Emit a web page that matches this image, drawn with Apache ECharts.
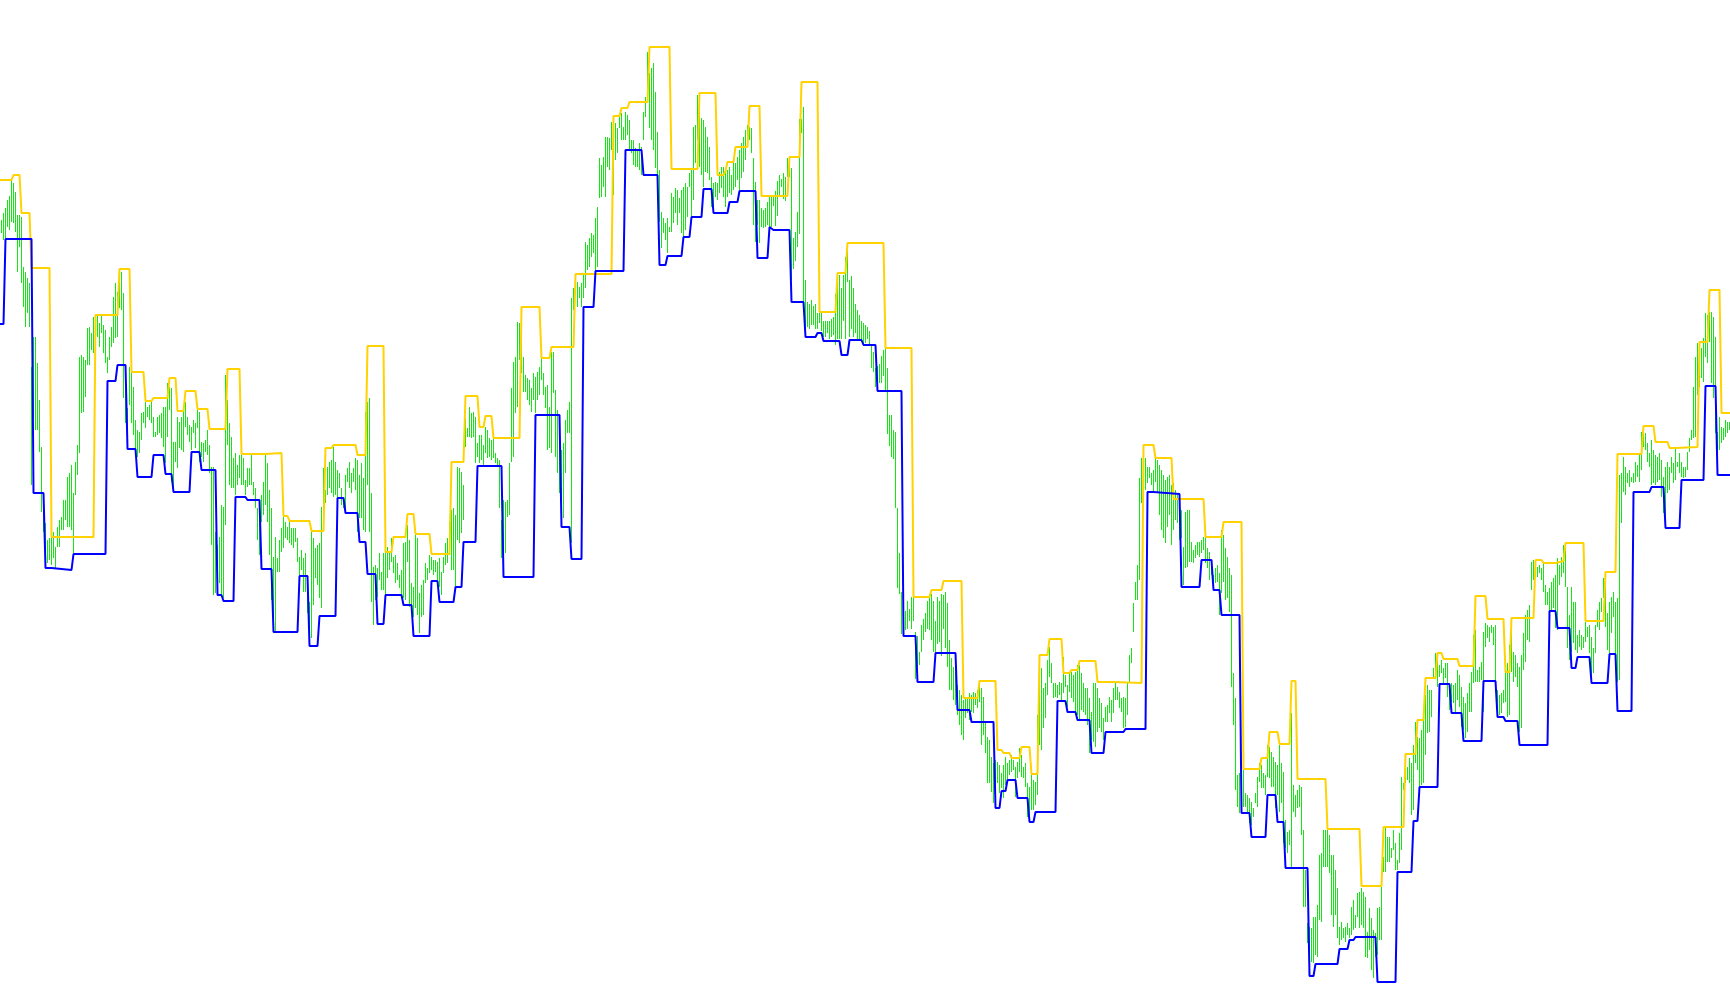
<!DOCTYPE html>
<html>
<head>
<meta charset="utf-8">
<script src="https://cdn.jsdelivr.net/npm/echarts/dist/echarts.min.js"></script>
<style>
html,body{margin:0;padding:0;background:#fff;}
#chart{width:1730px;height:1005px;}
</style>
</head>
<body>
<div id="chart"></div>
<script>
// Bar highs (one per bar, price units)
const highs = [
785,792,797,805,809,825,822,813,790,790,
788,738,733,727,722,638,668,668,642,605,
558,510,482,465,467,472,473,458,478,485,
488,505,505,528,532,540,512,543,560,648,
650,648,645,677,678,672,688,688,690,682,
690,680,675,648,668,678,708,722,713,735,
733,712,628,597,638,633,618,585,575,573,
592,593,603,598,600,605,588,573,588,590,
592,598,598,622,618,617,563,563,588,583,
588,598,603,588,580,578,
585,582,595,593,
563,562,565,575,560,538,538,473,460,468,
500,498,630,605,582,568,547,552,540,550,
550,547,525,537,537,550,523,517,497,503,
510,523,550,542,515,497,448,468,447,465,
477,488,483,478,485,477,477,477,467,448,
455,447,452,430,403,475,467,457,460,462,
498,537,515,538,543,545,558,543,535,532,
517,507,530,537,543,532,537,547,545,530,
542,527,593,603,607,512,438,440,437,452,
433,452,453,
458,452,467,448,450,442,430,
435,462,463,480,465,422,418,470,467,412,
420,425,442,437,450,448,445,445,443,447,
433,448,462,467,483,495,497,490,538,537,
533,520,587,577,598,592,593,588,562,570,
570,560,578,575,567,565,567,552,547,545,
485,505,503,505,542,617,643,648,683,682,
677,648,630,627,625,617,632,628,633,638,
648,632,618,620,598,653,653,615,595,565,
555,562,585,595,603,707,717,730,723,
718,
722,732,763,760,767,772,770,787,798,847,
840,848,868,868,867,883,875,882,877,888,
892,878,893,890,885,865,865,857,855,862,
858,893,908,953,932,937,942,913,873,835,
793,787,782,787,778,812,808,817,815,807,
815,818,822,818,832,835,878,880,910,895,
887,885,878,868,858,828,822,823,822,833,
838,838,833,835,838,830,843,842,848,855,
862,868,875,880,878,877,847,823,805,805,
797,795,797,803,808,808,
810,814,824,830,
826,832,828,847,837,837,767,773,793,886,
886,898,725,703,701,705,699,701,692,692,
692,684,684,684,684,686,688,711,732,730,
717,730,748,760,725,729,717,701,695,690,
684,682,680,678,674,660,653,637,639,641,
649,655,657,637,590,590,575,573,497,452,
413,402,394,404,396,408,408,373,369,353,
380,386,392,404,411,411,404,384,408,404,
411,410,413,402,365,347,338,341,320,315,
310,305,
307,308,312,310,313,312,315,320,
317,308,283,268,265,248,242,245,243,240,
232,240,248,242,245,250,245,238,243,257,
250,238,242,222,218,230,225,223,290,338,
337,317,322,345,358,342,322,322,320,323,
322,348,330,320,333,333,330,333,340,340,
332,322,317,317,307,293,322,322,317,307,
302,287,298,300,308,305,317,322,318,313,
307,308,307,322,350,357,402,423,440,527,
547,545,547,538,538,532,535,548,545,
540,
535,530,525,528,530,520,522,515,510,512,
495,458,493,495,495,463,455,460,463,463,
465,468,468,457,453,445,430,437,440,432,
475,470,457,448,437,430,332,307,230,232,
235,235,212,210,207,203,197,212,228,242,
240,232,230,260,258,253,248,243,240,260,
242,233,185,173,175,292,220,210,215,220,
218,175,135,82,78,77,88,88,100,150,
152,175,175,175,170,150,150,135,117,78,
83,77,78,82,77,
98,105,90,112,113,
117,113,108,73,97,87,75,72,97,98,
118,148,177,168,168,157,175,162,145,172,
228,222,242,238,247,242,260,283,268,267,
275,285,310,320,315,315,337,352,345,340,
345,337,342,342,317,322,320,322,335,330,
318,308,302,312,322,333,370,375,335,338,
343,373,382,380,378,380,378,380,315,310,
312,315,345,342,360,372,353,350,342,338,
350,372,390,395,400,443,445,438,438,440,
437,443,
420,413,417,423,427,430,447,440,
448,460,457,418,390,418,403,403,370,375,
370,368,383,378,380,368,357,380,395,403,
407,427,418,392,403,408,413,403,407,530,
532,548,538,532,535,528,532,543,540,550,
573,572,572,562,552,565,555,550,548,552,
545,528,538,543,538,548,542,557,543,552,
543,538,538,553,567,575,618,648,662,658,
657,667,692,690,693,693,688,668,573,588,
578,577,585,583,583
];

// Bar lows
const lows = [
772,765,767,778,775,783,782,773,733,758,
722,698,678,692,678,520,587,575,575,553,
493,473,442,442,445,440,447,437,458,458,
475,475,485,478,478,475,452,510,530,552,
592,593,608,640,640,655,652,663,668,658,
672,652,642,632,645,658,662,667,668,697,
695,607,582,573,600,582,570,555,548,552,
565,582,577,588,585,582,568,568,570,572,
567,558,542,568,595,523,515,543,537,557,
555,553,578,570,563,555,
572,557,577,543,
548,543,553,550,532,460,410,412,417,422,
408,407,480,560,520,517,517,510,520,527,
520,520,510,518,520,520,510,497,465,450,
483,490,500,483,450,405,373,373,433,433,
453,457,467,465,462,460,457,463,443,430,
435,413,413,392,367,367,400,427,420,407,
397,490,502,510,517,512,508,510,507,517,
500,497,493,523,517,512,523,515,473,487,
487,475,473,520,473,403,380,405,408,425,
415,415,410,
427,435,443,432,422,425,417,
407,407,405,443,398,392,388,397,390,372,
388,390,422,425,432,435,430,433,425,418,
410,432,440,442,450,435,435,418,465,462,
472,485,558,568,568,567,568,542,548,542,
545,540,552,547,548,545,547,542,538,497,
447,445,452,488,490,543,548,592,598,645,
632,613,613,605,600,593,605,592,605,610,
625,610,597,555,557,552,612,548,532,512,
485,487,532,572,572,462,695,718,698,
707,
698,707,717,735,738,748,752,732,738,807,
808,818,808,838,835,855,810,845,852,877,
865,865,865,870,855,852,840,838,838,835,
830,865,888,907,877,865,855,837,825,783,
757,772,765,752,773,773,782,792,780,792,
772,768,775,788,818,785,805,842,865,838,
830,818,833,832,825,798,797,808,805,812,
817,808,798,808,812,810,815,818,825,815,
827,833,845,863,865,852,780,763,780,762,
778,777,778,780,778,778,
799,779,789,808,
818,806,804,828,828,725,736,744,758,771,
872,701,676,678,676,680,680,676,676,682,
674,668,668,672,666,668,670,660,666,666,
666,684,666,723,668,676,668,672,664,666,
664,660,662,666,659,637,633,618,625,622,
622,629,614,571,559,548,546,497,417,411,
371,373,375,376,384,376,384,326,326,340,
353,365,373,376,375,365,353,345,361,363,
349,376,357,338,315,315,305,300,290,280,
270,265,
287,292,285,293,292,300,297,303,
260,270,252,222,222,213,202,217,222,212,
217,207,220,225,230,233,235,208,227,233,
228,227,218,188,188,195,195,200,210,260,
255,277,287,310,328,322,307,308,307,310,
305,312,318,298,313,307,303,290,290,285,
295,293,290,280,252,265,263,258,273,277,
273,265,283,283,292,283,292,305,305,297,
293,277,278,290,323,342,373,405,405,425,
502,518,515,522,527,520,512,523,513,
490,
475,467,462,478,490,460,475,485,482,465,
467,420,437,438,443,443,442,447,450,448,
452,455,442,437,425,430,415,422,423,390,
412,423,405,407,393,318,280,215,198,192,
210,198,198,193,182,180,188,202,198,223,
217,217,210,228,227,218,218,197,210,193,
202,162,157,152,160,137,193,188,197,198,
170,98,98,62,48,43,42,50,48,85,
83,138,138,138,132,90,78,90,67,60,
65,67,63,70,67,
70,75,77,88,77,
80,77,48,47,55,35,27,48,50,65,
65,133,133,143,143,147,155,135,135,142,
155,215,222,225,222,190,195,242,235,218,
220,222,250,272,273,288,327,328,318,328,
332,322,327,308,295,303,302,292,305,298,
278,275,267,273,293,293,322,323,323,323,
325,293,358,367,363,372,360,323,293,290,
292,302,303,288,290,333,323,328,318,273,
277,335,343,365,363,415,425,428,428,432,
425,413,
400,400,392,395,397,377,375,420,
428,432,418,357,345,353,362,355,352,358,
355,357,363,368,352,325,332,352,378,375,
393,407,378,355,352,372,388,352,323,325,
482,513,510,522,518,523,522,523,528,523,
535,558,555,543,538,520,522,520,523,525,
508,492,483,512,515,532,522,525,538,532,
528,527,528,535,553,565,567,568,610,618,
627,623,648,642,663,622,607,572,540,555,
562,565,568,572,575
];

// Upper channel (yellow): [first bar of run, level]
const upperRuns = [
[0,825],[6,830],[10,792],[15,737],[25,468],[47,690],[59,736],[65,633],[72,604],[76,607],
[84,627],[88,594],[92,614],[98,596],[104,576],[113,636],[120,551],[133,552],[141,489],[144,484],
[155,474],[162,557],[166,560],[178,550],[183,659],[192,453],[196,468],[203,491],[207,471],[215,451],
[225,543],[232,609],[239,578],[242,589],[246,567],[260,698],[270,647],[275,658],[287,731],[306,889],
[310,897],[314,903],[324,958],[335,836],[349,912],[358,830],[362,834],[363,843],[367,858],[374,899],
[380,809],[394,848],[400,923],[409,693],[418,732],[423,762],[442,657],[456,408],[465,415],[471,424],
[481,307],[489,324],[498,255],[501,252],[505,247],[510,258],[515,231],[519,350],[524,366],[531,332],
[535,335],[539,344],[548,323],[557,322],[571,560],[577,547],[586,506],[602,468],[611,483],[621,236],
[630,247],[634,273],[639,261],[645,324],[648,226],[663,176],[680,119],[691,178],[702,251],[708,285],
[712,327],[718,352],[721,346],[729,339],[737,409],[743,386],[752,333],[755,387],[767,445],[771,442],
[778,444],[782,462],[792,384],[802,433],[808,551],[821,579],[827,563],[834,557],[838,558],[849,663],
[854,715],[860,592]
];

// Lower channel (blue): [first bar of run, level]
const lowerRuns = [
[0,681],[2,766],[16,512],[22,437],[26,435],[36,451],[53,624],[58,640],[63,556],[68,528],
[76,550],[82,531],[86,513],[95,553],[100,535],[108,410],[111,404],[117,508],[123,505],[130,436],
[136,373],[149,429],[154,359],[159,389],[168,507],[172,492],[179,463],[183,431],[188,381],[192,410],
[201,400],[206,369],[215,424],[219,403],[227,418],[231,463],[238,539],[251,428],[267,590],[280,478],
[285,446],[291,698],[297,734],[312,855],[321,830],[329,740],[333,749],[341,768],[345,788],[351,816],
[356,792],[364,803],[369,814],[378,747],[384,778],[386,775],[395,703],[402,668],[408,672],[411,664],
[420,650],[424,665],[431,660],[438,614],[451,369],[458,323],[467,352],[478,295],[485,283],[497,197],
[500,214],[503,225],[508,207],[514,183],[517,193],[528,304],[533,293],[538,285],[545,252],[552,273],
[562,276],[573,513],[577,511],[590,418],[600,445],[606,415],[610,390],[620,192],[625,168],[633,210],
[638,183],[642,137],[654,29],[657,41],[669,56],[674,65],[677,68],[688,23],[698,133],[706,184],
[709,218],[719,321],[725,292],[731,264],[741,324],[748,288],[752,284],[759,260],[774,394],[778,377],
[785,337],[788,348],[795,322],[804,351],[808,294],[816,513],[825,518],[832,477],[840,525],[852,619],
[858,530]
];

const N = Math.min(highs.length, lows.length);
const OFF = 0.75;

function runsToLine(runs){
  const pts = [];
  for (let k = 0; k < runs.length; k++){
    const s = runs[k][0], v = runs[k][1];
    const last = k + 1 >= runs.length;
    const e = last ? N - 1 : runs[k+1][0] - 1;
    pts.push([k === 0 ? 0 : s + OFF, v]);
    if (e > s || last) pts.push([last ? 865 : e + OFF, v]);
  }
  return pts;
}

const barData = [];
for (let i = 0; i < N; i++) barData.push([i, lows[i], highs[i]]);

const chart = echarts.init(document.getElementById('chart'), null, {renderer:'canvas'});
chart.setOption({
  animation: false,
  backgroundColor: '#ffffff',
  grid: {left: 0, right: 0, top: 0, bottom: 0},
  xAxis: {type: 'value', min: 0, max: 865, show: false},
  yAxis: {type: 'value', min: 0, max: 1005, show: false},
  series: [
    {
      type: 'custom',
      data: barData,
      encode: {x: 0, y: [1, 2]},
      renderItem: function(params, api){
        const i = api.value(0);
        const p1 = api.coord([i + OFF, api.value(1)]);
        const p2 = api.coord([i + OFF, api.value(2)]);
        const x = Math.floor(p1[0]) + 0.5;
        return {
          type: 'line',
          shape: {x1: x, y1: p1[1], x2: x, y2: p2[1]},
          style: {stroke: '#14e614', lineWidth: 1}
        };
      },
      silent: true
    },
    {
      type: 'line',
      data: runsToLine(upperRuns),
      showSymbol: false,
      symbol: 'none',
      lineStyle: {color: '#ffd200', width: 2},
      silent: true
    },
    {
      type: 'line',
      data: runsToLine(lowerRuns),
      showSymbol: false,
      symbol: 'none',
      lineStyle: {color: '#0000ff', width: 2},
      silent: true
    }
  ]
});
</script>
</body>
</html>
